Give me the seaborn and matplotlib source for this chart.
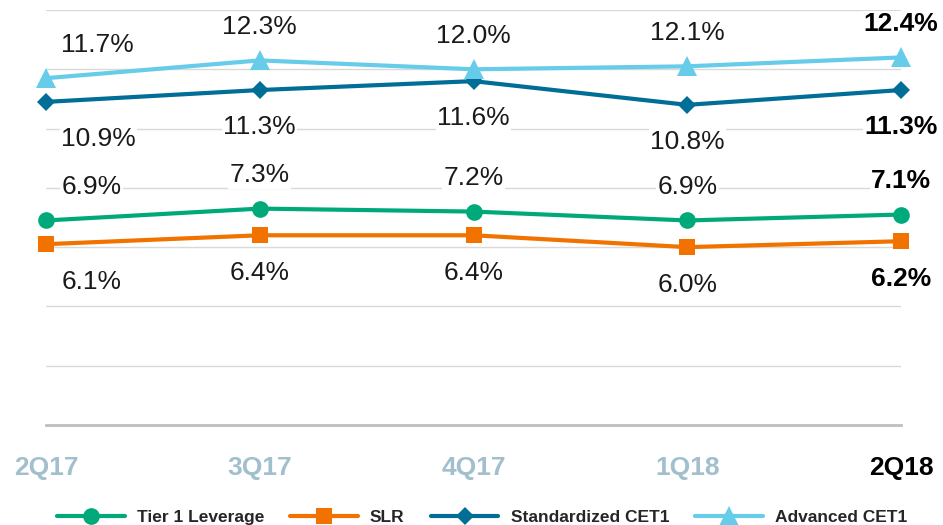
import pandas as pd
import numpy as np
import matplotlib.pyplot as plt
import seaborn as sns

# quarters and capital ratios (%)
quarters = ["2Q17", "3Q17", "4Q17", "1Q18", "2Q18"]
tier1_leverage = [6.9, 7.3, 7.2, 6.9, 7.1]
slr = [6.1, 6.4, 6.4, 6.0, 6.2]
standardized_cet1 = [10.9, 11.3, 11.6, 10.8, 11.3]
advanced_cet1 = [11.7, 12.3, 12.0, 12.1, 12.4]

series_names = ["Tier 1 Leverage", "SLR", "Standardized CET1", "Advanced CET1"]
series_values = [tier1_leverage, slr, standardized_cet1, advanced_cet1]

colors = ["#00A97A", "#F27200", "#006E96", "#66CCEA"]
markers = ["o", "s", "D", "^"]
msizes = [12, 12, 9, 14]
# label above (+) or below (-) the point, offset in points
label_off = [24, -27, -26.5, 24]

sns.set_style("white")
plt.rcParams["font.family"] = ["Liberation Sans", "DejaVu Sans"]

fig = plt.figure(figsize=(9.43, 5.25), dpi=100)
ax = fig.add_axes([46 / 943, 100 / 525, 855 / 943, 415 / 525])

x = np.arange(len(quarters))
for name, vals, col, mk, ms in zip(series_names, series_values, colors, markers, msizes):
    df = pd.DataFrame({"quarter": x, "value": vals})
    sns.lineplot(data=df, x="quarter", y="value", ax=ax, color=col, marker=mk,
                 markersize=ms, markeredgewidth=0, linewidth=3, label=name,
                 clip_on=False, zorder=3)

# data labels
for vals, off in zip(series_values, label_off):
    for i, v in enumerate(vals):
        last = i == len(vals) - 1
        if i == 0:
            ha, dx = "left", 11
        else:
            ha, dx = "center", 0
        ax.annotate(f"{v:.1f}%", (x[i], v), xytext=(dx, off), textcoords="offset points",
                    ha=ha, va="center", fontsize=19,
                    fontweight="bold" if last else "normal",
                    color="black" if last else "#1a1a1a",
                    bbox=dict(boxstyle="square,pad=0.05", fc="white", ec="none"),
                    zorder=4)

ax.set_xlim(0, 4)
ax.set_ylim(0, 14)
ax.set_yticks(np.arange(0, 15, 2))
ax.yaxis.grid(True, color="#d9d9d9", linewidth=1)
ax.set_axisbelow(True)
ax.set_yticklabels([])
ax.tick_params(axis="y", length=0)
for s in ["top", "left", "right"]:
    ax.spines[s].set_visible(False)
ax.spines["bottom"].set_color("#bfbfbf")
ax.spines["bottom"].set_linewidth(2)

ax.set_xticks(x)
ax.set_xticklabels(quarters, fontsize=19, fontweight="bold")
for i, t in enumerate(ax.get_xticklabels()):
    t.set_color("black" if i == len(quarters) - 1 else "#A1BFCD")
ax.tick_params(axis="x", length=0, pad=22)
ax.set_xlabel("")
ax.set_ylabel("")

handles, labels = ax.get_legend_handles_labels()
ax.get_legend().remove()
fig.legend(handles, labels, loc="center", bbox_to_anchor=(482 / 943, 8 / 525), ncol=4,
           frameon=False, prop={"size": 12.5, "weight": "bold"}, handlelength=3.9,
           handletextpad=0.7, columnspacing=1.5, markerscale=1.0)

fig.savefig("out.png", dpi=100)
